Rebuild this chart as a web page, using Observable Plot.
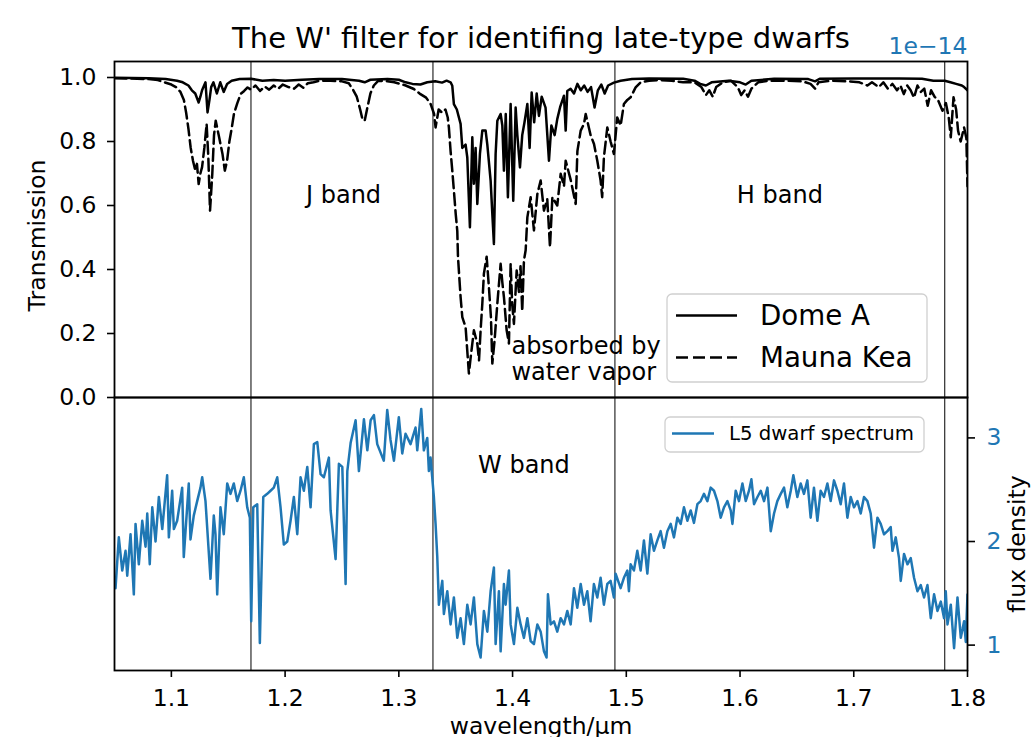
<!DOCTYPE html>
<html><head><meta charset="utf-8">
<script src="https://cdn.jsdelivr.net/npm/d3@7"></script>
<script src="https://cdn.jsdelivr.net/npm/@observablehq/plot@0.6"></script>
<style>
html,body{margin:0;padding:0;background:#fff;}
#wrap{position:relative;width:1031px;height:737px;overflow:hidden;background:#fff;}
#wrap svg{position:absolute;left:0;top:0;}
</style></head><body><div id="wrap"></div>
<script>
// ---------- data ----------
const bandEdges = [1.17, 1.33, 1.49, 1.78];
const waveTicks = [1.1, 1.2, 1.3, 1.4, 1.5, 1.6, 1.7, 1.8];
const transTicks = [0.0, 0.2, 0.4, 0.6, 0.8, 1.0];
const fluxTicks = [1, 2, 3];

const domeWave = [1.050,1.080,1.095,1.105,1.110,1.115,1.118,1.121,1.124,1.1255,
1.127,1.130,1.1318,1.1335,1.135,1.137,1.140,1.143,1.146,1.149,
1.153,1.160,1.170,1.180,1.190,1.200,1.215,1.230,1.250,1.265,
1.270,1.275,1.290,1.300,1.306,1.312,1.319,1.325,1.332,1.338,
1.342,1.3455,1.347,1.3484,1.351,1.3543,1.3558,1.3587,1.3602,1.3625,
1.3646,1.3660,1.3675,1.3690,1.3713,1.3734,1.3763,1.3778,1.3807,1.3822,
1.3836,1.3851,1.3866,1.3895,1.391,1.3924,1.394,1.3959,1.3983,1.4006,
1.4027,1.4042,1.4065,1.4085,1.4105,1.4130,1.4150,1.4168,1.4190,1.4212,
1.4232,1.4256,1.4290,1.4320,1.4341,1.437,1.4393,1.442,1.4452,1.4467,
1.4481,1.451,1.454,1.457,1.460,1.463,1.466,1.469,1.4721,1.475,
1.478,1.481,1.484,1.4891,1.495,1.505,1.520,1.550,1.560,1.565,
1.570,1.575,1.590,1.600,1.605,1.610,1.630,1.660,1.666,1.670,
1.700,1.740,1.760,1.770,1.780,1.785,1.790,1.795,1.797,1.800];
const domeTrans = [.999,.998,.995,.99,.985,.975,.96,.95,.922,.94,
.96,.985,.891,.93,.97,.985,.95,.985,.955,.98,
.99,.995,.996,.99,.992,.99,.993,.995,.995,.99,
.985,.993,.995,.993,.985,.98,.978,.985,.988,.984,
.99,.985,.974,.917,.90,.855,.78,.79,.75,.532,
.813,.668,.78,.605,.761,.834,.834,.79,.678,.574,
.48,.761,.865,.886,.85,.709,.886,.626,.917,.615,
.906,.82,.719,.82,.86,.917,.78,.953,.86,.95,
.88,.94,.906,.74,.85,.82,.87,.91,.943,.834,
.958,.965,.95,.98,.96,.975,.955,.97,.906,.96,
.978,.95,.975,.984,.99,.995,.997,.996,.99,.98,
.975,.985,.99,.985,.978,.99,.996,.995,.988,.996,
.997,.997,.996,.99,.99,.985,.98,.975,.97,.96];

const maunaWave = [1.050,1.060,1.070,1.080,1.088,1.094,1.100,1.104,1.108,1.111,
1.113,1.115,1.117,1.119,1.121,1.1225,1.124,1.1255,1.127,1.129,
1.131,1.1325,1.134,1.136,1.1375,1.139,1.142,1.145,1.147,1.149,
1.151,1.153,1.155,1.158,1.161,1.164,1.167,1.170,1.174,1.178,
1.182,1.186,1.190,1.194,1.198,1.203,1.208,1.212,1.216,1.220,
1.225,1.230,1.240,1.250,1.256,1.260,1.263,1.266,1.268,1.270,
1.272,1.275,1.278,1.282,1.290,1.296,1.3015,1.306,1.3132,1.319,
1.324,1.328,1.331,1.3323,1.335,1.338,1.341,1.343,1.344,1.3455,
1.347,1.3484,1.350,1.3514,1.352,1.3543,1.3558,1.3587,1.3616,1.363,
1.3660,1.369,1.3705,1.3719,1.3734,1.3748,1.3772,1.3792,1.381,1.3822,
1.3842,1.3866,1.3895,1.391,1.3924,1.3948,1.3968,1.3983,1.3997,1.4012,
1.4036,1.4056,1.407,1.4085,1.4100,1.4115,1.4130,1.4159,1.4188,1.4218,
1.4247,1.4276,1.4305,1.4329,1.4350,1.4393,1.4423,1.4452,1.4467,1.4511,
1.4555,1.4570,1.4599,1.4628,1.4643,1.4686,1.4716,1.4745,1.4774,1.4788,
1.4803,1.4833,1.4862,1.4891,1.4920,1.4950,1.4979,1.5009,1.5038,1.5082,
1.5126,1.520,1.530,1.540,1.550,1.560,1.566,1.570,1.573,1.576,
1.579,1.585,1.592,1.598,1.601,1.604,1.607,1.610,1.616,1.625,
1.640,1.655,1.662,1.666,1.669,1.680,1.695,1.705,1.712,1.716,
1.722,1.726,1.730,1.734,1.738,1.741,1.744,1.747,1.750,1.753,
1.756,1.759,1.762,1.765,1.768,1.771,1.774,1.778,1.781,1.7835,
1.7853,1.7877,1.790,1.7917,1.794,1.797,1.799,1.800];
const maunaTrans = [.998,.997,.996,.995,.992,.985,.978,.97,.955,.93,
.89,.84,.78,.74,.71,.73,.667,.70,.72,.78,
.855,.75,.584,.70,.82,.865,.813,.76,.709,.74,
.80,.84,.886,.92,.949,.958,.969,.962,.975,.958,
.972,.962,.975,.965,.978,.97,.965,.978,.968,.982,
.985,.99,.99,.988,.982,.96,.94,.90,.87,.865,
.90,.95,.975,.99,.988,.985,.98,.975,.964,.948,
.937,.917,.886,.844,.90,.89,.90,.875,.844,.77,
.709,.647,.574,.52,.44,.314,.251,.22,.075,.12,
.21,.168,.116,.21,.293,.387,.44,.345,.25,.106,
.179,.293,.418,.36,.314,.21,.169,.418,.29,.23,
.397,.33,.41,.27,.428,.46,.563,.626,.522,.636,
.678,.584,.62,.47,.626,.60,.699,.66,.74,.68,
.605,.77,.834,.855,.886,.82,.792,.74,.678,.626,
.75,.844,.80,.761,.875,.85,.917,.93,.938,.969,
.985,.99,.992,.99,.985,.985,.97,.945,.96,.94,
.97,.985,.99,.97,.945,.96,.94,.965,.985,.99,
.99,.988,.98,.965,.985,.99,.988,.985,.975,.985,
.97,.985,.965,.98,.96,.975,.948,.975,.96,.937,
.975,.955,.965,.912,.96,.94,.93,.896,.92,.875,
.813,.938,.90,.834,.80,.844,.81,.66];

const l5Wave = [1.0509,1.0538,1.0568,1.0597,1.0612,1.0641,1.0670,1.0685,1.0714,1.0744,
1.0773,1.0788,1.0810,1.0832,1.0861,1.0890,1.0920,1.0963,1.0978,1.1007,
1.1022,1.1051,1.1095,1.1109,1.1153,1.1168,1.1197,1.1227,1.1256,1.1271,
1.1300,1.1344,1.1373,1.1388,1.1403,1.1432,1.1461,1.1491,1.1520,1.1549,
1.1579,1.1608,1.1637,1.1667,1.1690,1.1702,1.1720,1.1755,1.1778,1.1808,
1.1843,1.1872,1.1901,1.1931,1.1960,1.1989,1.2019,1.2048,1.2077,1.2107,
1.2136,1.2165,1.2195,1.2224,1.2253,1.2283,1.2312,1.2341,1.2385,1.2400,
1.2444,1.2473,1.2503,1.2532,1.2547,1.2576,1.2620,1.2649,1.2693,1.2723,
1.2752,1.2781,1.2810,1.2868,1.2898,1.2927,1.2957,1.3000,1.3030,1.3059,
1.3103,1.3147,1.3162,1.3197,1.3220,1.3250,1.3264,1.3279,1.3308,1.3323,
1.3338,1.3352,1.3382,1.3396,1.3426,1.3455,1.3484,1.3514,1.3543,1.3572,
1.3602,1.3631,1.3660,1.3690,1.3719,1.3748,1.3778,1.3807,1.3836,1.3851,
1.3880,1.3895,1.3924,1.3939,1.3968,1.3983,1.4012,1.4042,1.4071,1.4100,
1.4130,1.4159,1.4188,1.4218,1.4247,1.4276,1.4299,1.4311,1.4335,1.4364,
1.4393,1.4423,1.4452,1.4481,1.4511,1.4540,1.4569,1.4599,1.4628,1.4657,
1.4686,1.4715,1.4745,1.4774,1.4803,1.4833,1.4862,1.4891,1.4906,1.4950,
1.4979,1.5009,1.5023,1.5038,1.5067,1.5097,1.5126,1.5155,1.5185,1.5214,
1.5243,1.5273,1.5302,1.5331,1.5361,1.5390,1.5419,1.5449,1.5478,1.5507,
1.5537,1.5566,1.5595,1.5625,1.5654,1.5683,1.5713,1.5742,1.5771,1.5801,
1.5830,1.5859,1.5889,1.5918,1.5933,1.5962,1.5991,1.6021,1.6050,1.6079,
1.6100,1.6123,1.6153,1.6182,1.6211,1.6241,1.6270,1.6299,1.6328,1.6358,
1.6387,1.6416,1.6446,1.6469,1.6504,1.6533,1.6562,1.6592,1.6621,1.6650,
1.6680,1.6709,1.6738,1.6768,1.6797,1.6826,1.6856,1.6885,1.6914,1.6944,
1.6973,1.7002,1.7032,1.7061,1.7090,1.7120,1.7149,1.7178,1.7208,1.7237,
1.7266,1.7296,1.7325,1.7340,1.7369,1.7398,1.7413,1.7442,1.7472,1.7501,
1.7530,1.7560,1.7589,1.7618,1.7648,1.7677,1.7706,1.7736,1.7765,1.7794,
1.7809,1.7824,1.7853,1.7882,1.7912,1.7941,1.7970,1.7985,1.8000];
const l5Flux = [1.55,2.04,1.72,1.91,1.67,2.07,1.49,2.17,1.78,2.20,
1.95,2.27,1.78,2.33,2.00,2.43,2.12,2.64,2.04,2.49,
2.12,2.20,2.52,1.85,2.56,2.02,2.25,2.39,2.52,2.62,
2.39,1.64,2.25,2.07,1.49,2.33,2.07,2.56,2.46,2.56,
2.39,2.49,2.62,2.33,2.23,1.23,2.33,2.36,1.02,2.43,
2.46,2.49,2.52,2.62,2.33,1.97,2.00,2.20,2.43,2.07,
2.62,2.49,2.72,2.33,2.94,2.96,2.65,2.62,2.81,2.30,
1.83,2.75,2.72,1.59,2.68,2.95,3.17,2.68,3.18,2.88,
3.17,3.22,2.94,2.78,3.27,2.98,2.78,3.20,2.85,3.04,
2.94,3.10,2.88,3.28,2.88,3.00,2.68,2.81,2.43,2.17,
1.85,1.39,1.62,1.30,1.52,1.20,1.46,1.07,1.26,1.01,
1.39,1.20,1.46,1.01,0.88,1.33,1.13,1.52,1.75,1.01,
1.52,0.94,1.59,1.39,1.72,1.20,1.01,1.36,1.20,1.07,
1.26,1.04,1.01,1.20,1.13,0.94,0.88,1.49,1.20,1.23,
1.13,1.26,1.20,1.33,1.20,1.55,1.36,1.59,1.39,1.52,
1.23,1.59,1.46,1.65,1.39,1.59,1.62,1.46,1.69,1.55,
1.65,1.72,1.52,1.78,1.72,1.91,1.72,2.01,1.69,2.07,
1.91,2.01,2.10,1.94,2.10,2.17,2.04,2.23,2.17,2.33,
2.20,2.30,2.18,2.36,2.39,2.46,2.39,2.52,2.49,2.39,
2.23,2.33,2.39,2.30,2.17,2.49,2.39,2.56,2.39,2.49,
2.60,2.36,2.43,2.49,2.39,2.52,2.10,2.27,2.39,2.46,
2.52,2.33,2.49,2.64,2.43,2.56,2.46,2.59,2.23,2.52,
2.20,2.49,2.43,2.56,2.39,2.59,2.49,2.36,2.56,2.23,
2.43,2.33,2.39,2.27,2.43,2.39,2.27,1.94,2.23,2.17,
2.07,2.10,2.14,1.91,2.04,1.84,1.62,1.88,1.78,1.84,
1.65,1.52,1.58,1.46,1.58,1.26,1.49,1.33,1.42,1.26,
1.52,1.20,1.39,0.97,1.46,1.07,1.23,1.03,1.49];

// ---------- tables ----------
const pair = (xs, ys, k) => xs.slice(0, Math.min(xs.length, ys.length)).map((w, i) => ({w, [k]: ys[i]}));
const domeData = pair(domeWave, domeTrans, "t");
const maunaData = pair(maunaWave, maunaTrans, "t");
const l5Data = pair(l5Wave, l5Flux, "f");

const W = 1031, H = 737;
const FONT = "DejaVu Sans";
const BLUE = "#1f77b4";
const FS = 23.5;   // tick & axis label size
const FA = 24;     // annotation size
const LW = 2.5;
const common = {
  width: W, height: H, marginLeft: 114, marginRight: 64,
  style: {fontFamily: FONT, fontSize: FS + "px", background: "transparent", overflow: "visible"}
};

const topPlot = Plot.plot({
  ...common, marginTop: 61, marginBottom: H - 397,
  x: {domain: [1.05, 1.8], axis: null},
  y: {domain: [0, 1.05]},
  marks: [
    Plot.ruleX(bandEdges, {stroke: "black", strokeWidth: 1}),
    Plot.line(maunaData, {x: "w", y: "t", stroke: "black", strokeWidth: LW, strokeDasharray: "12,5", clip: true}),
    Plot.line(domeData, {x: "w", y: "t", stroke: "black", strokeWidth: LW, clip: true}),
    Plot.frame({stroke: "black", strokeWidth: 1.8}),
    Plot.axisY({ticks: transTicks, tickFormat: d3.format(".1f"), tickSize: 7, tickPadding: 11, label: null, fontSize: FS, strokeWidth: 1.6}),
    Plot.text(["Transmission"], {frameAnchor: "left", textAnchor: "middle", rotate: -90, dx: -77, dy: 6, fontSize: FS}),
    Plot.text(["The W' filter for identifing late-type dwarfs"], {frameAnchor: "top", textAnchor: "middle", lineAnchor: "bottom", dy: -14, fontSize: 29}),
    Plot.text(["1e\u221214"], {frameAnchor: "top-right", textAnchor: "end", lineAnchor: "bottom", dy: -8, fontSize: FS, fill: BLUE}),
    Plot.text(["J band"], {x: 1.2514, y: 0.631, fontSize: FA}),
    Plot.text(["H band"], {x: 1.635, y: 0.631, fontSize: FA}),
    Plot.text(["absorbed by\nwater vapor"], {x: 1.399, y: 0.12, textAnchor: "start", lineHeight: 1.08, fontSize: FA})
  ]
});

const bottomPlot = Plot.plot({
  ...common, marginTop: 397, marginBottom: H - 670,
  x: {domain: [1.05, 1.8]},
  y: {domain: [0.755, 3.39]},
  marks: [
    Plot.ruleX(bandEdges, {stroke: "black", strokeWidth: 1}),
    Plot.line(l5Data, {x: "w", y: "f", stroke: BLUE, strokeWidth: LW, clip: true}),
    Plot.frame({stroke: "black", strokeWidth: 1.8}),
    Plot.axisX({ticks: waveTicks, tickFormat: d3.format(".1f"), tickSize: 7, tickPadding: 12, label: null, fontSize: FS, strokeWidth: 1.6}),
    Plot.axisY({anchor: "right", ticks: fluxTicks, tickSize: 7, tickFormat: () => "", label: null, strokeWidth: 1.6}),
    Plot.axisY({anchor: "right", ticks: fluxTicks, tickSize: 0, tickPadding: 19, tickFormat: d3.format("d"), label: null, fontSize: FS, color: BLUE}),
    Plot.text(["wavelength/\u03bcm"], {frameAnchor: "bottom", textAnchor: "middle", lineAnchor: "bottom", dy: 63.5, fontSize: FS}),
    Plot.text(["flux density"], {frameAnchor: "right", textAnchor: "middle", rotate: -90, dx: 50, dy: 10, fontSize: FS}),
    Plot.text(["W band"], {x: 1.41, y: 2.74, fontSize: FA})
  ]
});

const wrap = document.getElementById("wrap");
wrap.appendChild(topPlot);
wrap.appendChild(bottomPlot);

// ---------- legends ----------
const ns = "http://www.w3.org/2000/svg";
const leg = document.createElementNS(ns, "svg");
leg.setAttribute("width", W); leg.setAttribute("height", H);
leg.setAttribute("style", "position:absolute;left:0;top:0;font-family:'DejaVu Sans'");
leg.innerHTML = `
<rect x="667" y="294" width="260" height="88" rx="5" fill="rgba(255,255,255,0.8)" stroke="#d0d0d0" stroke-width="1.3"/>
<line x1="676" x2="737" y1="315.5" y2="315.5" stroke="black" stroke-width="${LW}"/>
<line x1="676" x2="737" y1="357.5" y2="357.5" stroke="black" stroke-width="${LW}" stroke-dasharray="12,5"/>
<text x="760" y="325" font-size="27.7" fill="black">Dome A</text>
<text x="760" y="367" font-size="27.7" fill="black">Mauna Kea</text>
<rect x="665" y="417" width="259" height="35" rx="5" fill="rgba(255,255,255,0.8)" stroke="#d0d0d0" stroke-width="1.3"/>
<line x1="672" x2="714" y1="433.5" y2="433.5" stroke="${BLUE}" stroke-width="${LW}"/>
<text x="729" y="440" font-size="19.7" fill="black">L5 dwarf spectrum</text>`;
wrap.appendChild(leg);
</script></body></html>
